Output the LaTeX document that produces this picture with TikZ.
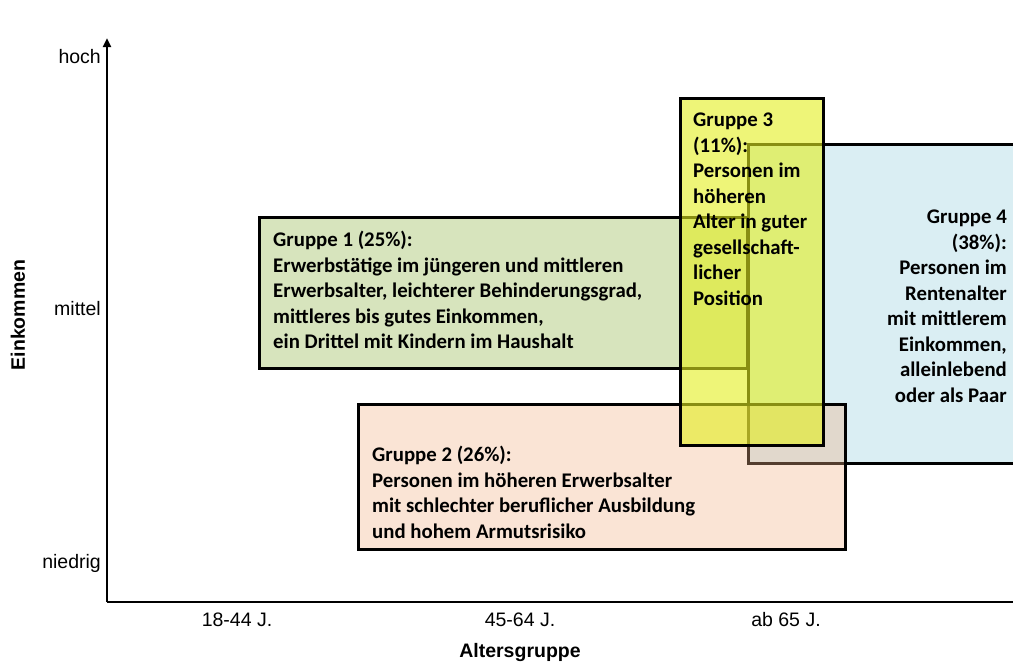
\documentclass[tikz,border=0pt]{standalone}
\usepackage{fontspec}
\setmainfont{Carlito}
\newfontfamily\arialfont{Liberation Sans}
\usetikzlibrary{arrows.meta}
\definecolor{gonefill}{RGB}{215,228,189}
\definecolor{gtwofill}{RGB}{240,177,134}
\definecolor{gthreefill}{RGB}{227,238,30}
\definecolor{gfourfill}{RGB}{218,238,243}
\begin{document}
\begin{tikzpicture}[x=1pt,y=-1pt,
  grpbox/.style={draw=black, line width=2.8pt, rectangle, inner sep=0pt, anchor=north west},
  grptext/.style={font=\bfseries\fontsize{20.8}{25.5}\selectfont, inner sep=0pt, text=black},
  axlabel/.style={font=\arialfont\fontsize{19.5}{22}\selectfont, inner sep=0pt},
  axtitle/.style={font=\arialfont\bfseries\fontsize{19.5}{22}\selectfont, inner sep=0pt},
  axisline/.style={line width=2.8pt}]
\useasboundingbox (0,0) rectangle (1013,664);
\clip (0,0) rectangle (1013,664);
% axes
\coordinate (O) at (107,602);
\coordinate (ytop) at (107,38);
\coordinate (xend) at (1030,602);
\draw[axisline, -{Triangle[length=9pt,width=8pt]}] (O) -- (ytop);
\draw[axisline] (O) -- (xend);
% boxes
\node[grpbox, fill=gfourfill, minimum width=300pt, minimum height=319pt] (b4) at (747,143) {};
\node[grpbox, fill=gonefill, minimum width=488pt, minimum height=151pt] (b1) at (258,216) {};
\node[grpbox, fill=gtwofill, fill opacity=0.35, minimum width=487pt, minimum height=145pt] (b2) at (357,403) {};
\node[grpbox, fill=gthreefill, fill opacity=0.6, minimum width=143pt, minimum height=347pt] (b3) at (679,97) {};
% texts
\node[grptext, align=left, anchor=north west] (t1) at (273,231) {Gruppe 1 (25\%):\\Erwerbstätige im jüngeren und mittleren\\Erwerbsalter, leichterer Behinderungsgrad,\\mittleres bis gutes Einkommen,\\ein Drittel mit Kindern im Haushalt};
\node[grptext, align=left, anchor=north west] (t2) at (372,446) {Gruppe 2 (26\%):\\Personen im höheren Erwerbsalter\\mit schlechter beruflicher Ausbildung\\und hohem Armutsrisiko};
\node[grptext, align=left, anchor=north west] (t3) at (693,113) {Gruppe 3\\(11\%):\\Personen im\\höheren\\Alter in guter\\gesellschaft-\\licher\\Position};
\node[grptext, align=right, anchor=north east] (t4) at (1007,210) {Gruppe 4\\(38\%):\\Personen im\\Rentenalter\\mit mittlerem\\Einkommen,\\alleinlebend\\oder als Paar};
% axis labels
\node[axlabel, anchor=east] (hoch) at (101,57) {hoch};
\node[axlabel, anchor=east] (mittel) at (101,309) {mittel};
\node[axlabel, anchor=east] (niedrig) at (101,563) {niedrig};
\node[axlabel] (a1) at (237,620) {18-44 J.};
\node[axlabel] (a2) at (520,620) {45-64 J.};
\node[axlabel] (a3) at (786,620) {ab 65 J.};
\node[axtitle] (xt) at (520,652) {Altersgruppe};
\node[axtitle, rotate=90] (yt) at (18,315) {Einkommen};
\end{tikzpicture}
\end{document}
